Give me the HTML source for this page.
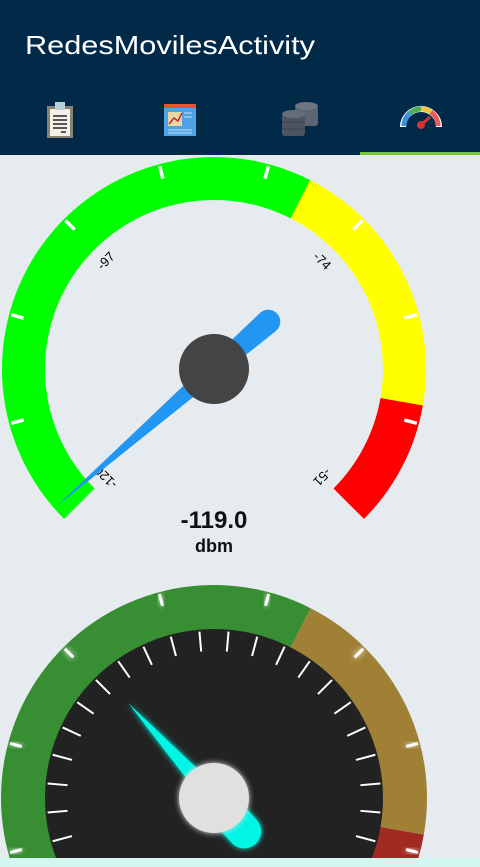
<!DOCTYPE html>
<html><head><meta charset="utf-8">
<style>
html,body{margin:0;padding:0;width:480px;height:867px;overflow:hidden;background:#e6ebf0;font-family:"Liberation Sans",sans-serif;position:relative}
#hdr{position:absolute;left:0;top:0;width:480px;height:155px;background:#002a48}
#bottom{position:absolute;left:0;top:858px;width:480px;height:9px;background:#d2f7f0}
#g{position:absolute;left:0;top:0;overflow:hidden}
</style></head><body>
<div id="hdr">
<svg width="480" height="155">
<text x="25" y="54" fill="#fff" font-size="26" font-family="Liberation Sans, sans-serif" textLength="290" lengthAdjust="spacingAndGlyphs">RedesMovilesActivity</text>
<g>
<rect x="47" y="106" width="26" height="32" fill="#8a8270"/><rect x="50" y="109" width="20" height="27" fill="#f5f0e6"/>
<rect x="55" y="102" width="10" height="8" fill="#b8d0dc"/>
<g stroke="#222" stroke-width="1.5"><line x1="53" y1="116" x2="67" y2="116"/><line x1="53" y1="120" x2="67" y2="120"/><line x1="53" y1="124" x2="67" y2="124"/><line x1="53" y1="128" x2="67" y2="128"/><line x1="61" y1="132" x2="66" y2="132"/></g></g>
<g>
<rect x="164" y="104" width="32" height="32" fill="#4da3e6"/><rect x="164" y="104" width="32" height="4" fill="#e8542e"/>
<rect x="168" y="112" width="14" height="14" fill="#e9d7a0"/><polyline points="169,124 174,118 178,121 182,113" stroke="#c0243a" stroke-width="1.5" fill="none"/>
<g stroke="#9ccaf0" stroke-width="1.5"><line x1="184" y1="113" x2="192" y2="113"/><line x1="184" y1="117" x2="192" y2="117"/><line x1="168" y1="130" x2="192" y2="130"/><line x1="168" y1="133" x2="192" y2="133"/></g></g>
<g>
<rect x="295" y="106" width="23" height="20" rx="3" fill="#5e6470"/><ellipse cx="306.5" cy="106" rx="11.5" ry="4" fill="#6e7480"/>
<rect x="282" y="114" width="23" height="22" rx="3" fill="#4f5560"/><ellipse cx="293.5" cy="114" rx="11.5" ry="4" fill="#666c78"/>
<line x1="282" y1="122" x2="305" y2="122" stroke="#3c414a"/><line x1="282" y1="129" x2="305" y2="129" stroke="#3c414a"/></g>
<g>
<path d="M403,127 A18,18 0 0 1 439,127" stroke="#fff" stroke-width="6" fill="none"/>
<path d="M404,126 A17,17 0 0 1 410,113" stroke="#3b8fe0" stroke-width="5" fill="none"/>
<path d="M410,113 A17,17 0 0 1 421,109" stroke="#4caf50" stroke-width="5" fill="none"/>
<path d="M421,109 A17,17 0 0 1 431,112" stroke="#f6c343" stroke-width="5" fill="none"/>
<path d="M431,112 A17,17 0 0 1 438,126" stroke="#e85a5a" stroke-width="5" fill="none"/>
<circle cx="421" cy="125" r="4" fill="#d63434"/><line x1="421" y1="125" x2="430" y2="117" stroke="#d63434" stroke-width="3"/></g>
<rect x="360" y="152" width="120" height="3" fill="#76c63b"/>
</svg></div>

<svg id="g" width="480" height="858"></svg>
<div id="bottom"></div>

<script>
// Gauge 1 data
const g1Min = -120, g1Max = -51;
const g1Value = -119.0;
const g1Labels = ["-120", "-97", "-74", "-51"];
const g1Bands = [0.6, 0.87, 1.0];
// Gauge 2 data
const g2Min = 0, g2Max = 100;
const g2Value = 34.4;
const g2Bands = [0.6, 0.87, 1.0];

const NS = "http://www.w3.org/2000/svg";
const svg = document.getElementById('g');
function mk(tag, attrs, parent){const e=document.createElementNS(NS,tag);for(const k in attrs)e.setAttribute(k,attrs[k]);(parent||svg).appendChild(e);return e;}
function pt(cx,cy,r,a){const t=a*Math.PI/180;return [cx+r*Math.sin(t),cy-r*Math.cos(t)];}
function off(p,a,d){const t=(a+90)*Math.PI/180;return [p[0]+d*Math.sin(t),p[1]-d*Math.cos(t)];}
function ang(f){return -135+270*f;}
function band(cx,cy,R,r,a0,a1,fill,parent){
  const p0=pt(cx,cy,R,a0),p1=pt(cx,cy,R,a1),q1=pt(cx,cy,r,a1),q0=pt(cx,cy,r,a0);
  const lg=(a1-a0)>180?1:0;
  return mk('path',{d:`M${p0} A${R},${R} 0 ${lg} 1 ${p1} L${q1} A${r},${r} 0 ${lg} 0 ${q0} Z`,fill:fill},parent);
}
const defs=mk('defs',{});
defs.innerHTML='<filter id="glow" x="-50%" y="-50%" width="200%" height="200%"><feGaussianBlur stdDeviation="3" result="b"/><feMerge><feMergeNode in="b"/><feMergeNode in="SourceGraphic"/></feMerge></filter>';

// ---- Gauge 1
(function(){
  const cx=214,cy=369,R=212,r=169;
  const grp=mk('g',{});
  
  
  const cols=['#00ff00','#ffff00','#ff0000'];
  let prev=0;
  g1Bands.forEach((b,i)=>{const p=band(cx,cy,R,r,ang(prev),ang(b),cols[i],grp);
    
    prev=b;});
  for(let a=-105;a<=105;a+=30){const s=pt(cx,cy,R-2,a),e=pt(cx,cy,R-15,a);
    const l=mk('line',{x1:s[0],y1:s[1],x2:e[0],y2:e[1],stroke:'#fff','stroke-width':3.5},grp);
    
    }
  g1Labels.forEach((lab,i)=>{const a=ang(i/(g1Labels.length-1));const p=pt(cx,cy,152,a);
    const t=mk('text',{x:p[0],y:p[1],'font-size':13,'font-family':'Liberation Sans, sans-serif','text-anchor':'middle','dominant-baseline':'middle',fill:'#000',transform:`rotate(${a} ${p[0]} ${p[1]})`},grp);
    t.textContent=lab;
    
    });
  const va=ang((g1Value-g1Min)/(g1Max-g1Min));
  const tip=pt(cx,cy,210,va),tc=pt(cx,cy,-72,va);
  const tl=off(tc,va,-12),tr=off(tc,va,12);
  const nd=mk('g',{},grp);
  
  
  mk('path',{d:`M${tip} L${tl} L${tr} Z`,fill:'#2196f3'},nd);
  mk('circle',{cx:tc[0],cy:tc[1],r:12,fill:'#2196f3'},nd);
  const hub=mk('circle',{cx:cx,cy:cy,r:35,fill:'#444'},grp);
  
  
  const v=mk('text',{x:cx,y:528,'font-size':24,'font-weight':'bold','text-anchor':'middle',fill:'#111','font-family':'Liberation Sans, sans-serif'},grp);
  v.textContent=g1Value.toFixed(1);
  
  
  const u=mk('text',{x:cx,y:552,'font-size':18,'font-weight':'bold','text-anchor':'middle',fill:'#111','font-family':'Liberation Sans, sans-serif'},grp);
  u.textContent='dbm';
  
  
})();

// ---- Gauge 2
(function(){
  const cx=214,cy=798,R=213,r=168;
  const grp=mk('g',{});
  
  
  const cols=['#388e33','#a08035','#a12a22'];
  let prev=0;
  g2Bands.forEach((b,i)=>{const p=band(cx,cy,R,r,ang(prev),ang(b),cols[i],grp);
    
    prev=b;});
  const face=mk('circle',{cx:cx,cy:cy,r:r+1,fill:'#222'},grp);
  
  
  for(let a=-105;a<=105;a+=30){const s=pt(cx,cy,R-2,a),e=pt(cx,cy,R-14,a);
    const l=mk('line',{x1:s[0],y1:s[1],x2:e[0],y2:e[1],stroke:'#fff','stroke-width':3,filter:'url(#glow)'},grp);
    
    }
  for(let a=-135;a<=135;a+=10){const s=pt(cx,cy,167,a),e=pt(cx,cy,147,a);
    const l=mk('line',{x1:s[0],y1:s[1],x2:e[0],y2:e[1],stroke:'#fff','stroke-width':2},grp);
    
    }
  const va=ang((g2Value-g2Min)/(g2Max-g2Min));
  const tip=pt(cx,cy,128,va);
  const nd=mk('g',{filter:'url(#glow)'},grp);
  
  
  const b0=pt(cx,cy,0,va),b1=pt(cx,cy,-45,va);
  mk('line',{x1:b0[0],y1:b0[1],x2:b1[0],y2:b1[1],stroke:'#00f5e4','stroke-width':34,'stroke-linecap':'round'},nd);
  const bl=pt(cx,cy,20,va-25),br=pt(cx,cy,20,va+25);
  mk('path',{d:`M${tip} L${bl} L${br} Z`,fill:'#00f5e4'},nd);
  const hub=mk('circle',{cx:cx,cy:cy,r:35,fill:'#e0e0e0',filter:'url(#glow)'},grp);
  
  
})();
</script>
</body></html>
